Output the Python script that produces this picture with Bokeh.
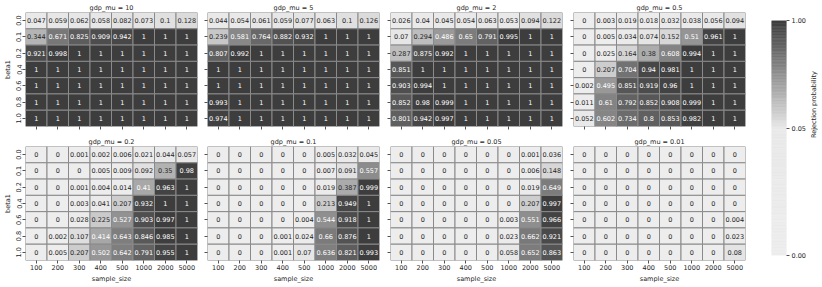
import math
from bokeh.plotting import figure
from bokeh.layouts import row, column
from bokeh.models import FactorRange, Range1d, ColumnDataSource, FixedTicker, LinearColorMapper
from bokeh.transform import transform
from bokeh.core.properties import value
from bokeh.embed import file_html
from bokeh.resources import INLINE

# ---------------- data ----------------
sample_sizes = ["100", "200", "300", "400", "500", "1000", "2000", "5000"]
beta1_levels = ["0.0", "0.1", "0.2", "0.4", "0.6", "0.8", "1.0"]
gdp_mu_labels = ["10", "5", "2", "0.5", "0.2", "0.1", "0.05", "0.01"]

rej_mu_10 = [
    [0.047, 0.059, 0.062, 0.058, 0.082, 0.073, 0.1, 0.128],
    [0.344, 0.671, 0.825, 0.909, 0.942, 1, 1, 1],
    [0.921, 0.998, 1, 1, 1, 1, 1, 1],
    [1, 1, 1, 1, 1, 1, 1, 1],
    [1, 1, 1, 1, 1, 1, 1, 1],
    [1, 1, 1, 1, 1, 1, 1, 1],
    [1, 1, 1, 1, 1, 1, 1, 1],
]
rej_mu_5 = [
    [0.044, 0.054, 0.061, 0.059, 0.077, 0.063, 0.1, 0.126],
    [0.239, 0.581, 0.764, 0.882, 0.932, 1, 1, 1],
    [0.807, 0.992, 1, 1, 1, 1, 1, 1],
    [1, 1, 1, 1, 1, 1, 1, 1],
    [1, 1, 1, 1, 1, 1, 1, 1],
    [0.993, 1, 1, 1, 1, 1, 1, 1],
    [0.974, 1, 1, 1, 1, 1, 1, 1],
]
rej_mu_2 = [
    [0.026, 0.04, 0.045, 0.054, 0.063, 0.053, 0.094, 0.122],
    [0.07, 0.294, 0.486, 0.65, 0.791, 0.995, 1, 1],
    [0.287, 0.875, 0.992, 1, 1, 1, 1, 1],
    [0.851, 1, 1, 1, 1, 1, 1, 1],
    [0.903, 0.994, 1, 1, 1, 1, 1, 1],
    [0.852, 0.98, 0.999, 1, 1, 1, 1, 1],
    [0.801, 0.942, 0.997, 1, 1, 1, 1, 1],
]
rej_mu_05 = [
    [0, 0.003, 0.019, 0.018, 0.032, 0.038, 0.056, 0.094],
    [0, 0.005, 0.034, 0.074, 0.152, 0.51, 0.961, 1],
    [0, 0.025, 0.164, 0.38, 0.608, 0.994, 1, 1],
    [0, 0.207, 0.704, 0.94, 0.981, 1, 1, 1],
    [0.002, 0.495, 0.851, 0.919, 0.96, 1, 1, 1],
    [0.011, 0.61, 0.792, 0.852, 0.908, 0.999, 1, 1],
    [0.052, 0.602, 0.734, 0.8, 0.853, 0.982, 1, 1],
]
rej_mu_02 = [
    [0, 0, 0.001, 0.002, 0.006, 0.021, 0.044, 0.057],
    [0, 0, 0, 0.005, 0.009, 0.092, 0.35, 0.98],
    [0, 0, 0.001, 0.004, 0.014, 0.41, 0.963, 1],
    [0, 0, 0.003, 0.041, 0.207, 0.932, 1, 1],
    [0, 0, 0.028, 0.225, 0.527, 0.903, 0.997, 1],
    [0, 0.002, 0.107, 0.414, 0.643, 0.846, 0.985, 1],
    [0, 0.005, 0.207, 0.502, 0.642, 0.791, 0.955, 1],
]
rej_mu_01 = [
    [0, 0, 0, 0, 0, 0.005, 0.032, 0.045],
    [0, 0, 0, 0, 0, 0.007, 0.091, 0.557],
    [0, 0, 0, 0, 0, 0.019, 0.387, 0.999],
    [0, 0, 0, 0, 0, 0.213, 0.949, 1],
    [0, 0, 0, 0, 0.004, 0.544, 0.918, 1],
    [0, 0, 0, 0.001, 0.024, 0.66, 0.876, 1],
    [0, 0, 0, 0.001, 0.07, 0.636, 0.821, 0.993],
]
rej_mu_005 = [
    [0, 0, 0, 0, 0, 0, 0.001, 0.036],
    [0, 0, 0, 0, 0, 0, 0.006, 0.148],
    [0, 0, 0, 0, 0, 0, 0.019, 0.649],
    [0, 0, 0, 0, 0, 0, 0.207, 0.997],
    [0, 0, 0, 0, 0, 0.003, 0.551, 0.966],
    [0, 0, 0, 0, 0, 0.023, 0.662, 0.921],
    [0, 0, 0, 0, 0, 0.058, 0.652, 0.863],
]
rej_mu_001 = [
    [0, 0, 0, 0, 0, 0, 0, 0],
    [0, 0, 0, 0, 0, 0, 0, 0],
    [0, 0, 0, 0, 0, 0, 0, 0],
    [0, 0, 0, 0, 0, 0, 0, 0],
    [0, 0, 0, 0, 0, 0, 0, 0.004],
    [0, 0, 0, 0, 0, 0, 0, 0.023],
    [0, 0, 0, 0, 0, 0, 0, 0.08],
]
panels = [rej_mu_10, rej_mu_5, rej_mu_2, rej_mu_05,
          rej_mu_02, rej_mu_01, rej_mu_005, rej_mu_001]

cbar_ticks = [0.0, 0.05, 1.0]
cbar_tick_labels = ["0.00", "0.05", "1.00"]

# ---------------- styling ----------------
FONT = "DejaVu Sans"
FS = "6.5px"
TXT = "#262626"
CENTER = 0.05
CB_MID = 0.54


def to_pos(v):
    if v <= CENTER:
        return CB_MID * v / CENTER
    return CB_MID + (1 - CB_MID) * (v - CENTER) / (1 - CENTER)


def gray_at(p):
    if p <= CB_MID:
        return 237 + (233 - 237) * p / CB_MID
    return 233 + (61 - 233) * (p - CB_MID) / (1 - CB_MID)


def hexgray(g):
    g = int(round(g))
    return "#%02x%02x%02x" % (g, g, g)


palette = [hexgray(gray_at(i / 255)) for i in range(256)]
mapper = LinearColorMapper(palette=palette, low=0, high=1)


def text_color_for(v):
    g = gray_at(to_pos(v)) / 255.0
    lin = g / 12.92 if g <= 0.04045 else ((g + 0.055) / 1.055) ** 2.4
    return TXT if lin > 0.408 else "white"


def fmt(v):
    return "{:.3g}".format(v)


def hide_labels(ax):
    ax.major_label_text_color = None
    ax.major_label_text_font_size = "1px"
    ax.major_label_standoff = 0


LEFTS = [18, 8, 9, 9]
TOPS = [10, 14]
BOTS = [6, 22]
FH = 114

figs = []
for idx, data in enumerate(panels):
    r, c = divmod(idx, 4)
    xs, ys, pos, labels, tcols = [], [], [], [], []
    for i, b in enumerate(beta1_levels):
        for j, s in enumerate(sample_sizes):
            v = data[i][j]
            xs.append(s)
            ys.append(b)
            pos.append(to_pos(v))
            labels.append(fmt(v))
            tcols.append(text_color_for(v))
    src = ColumnDataSource(dict(x=xs, y=ys, pos=pos, label=labels, tcol=tcols))

    p = figure(x_range=FactorRange(factors=sample_sizes),
               y_range=FactorRange(factors=list(reversed(beta1_levels))),
               frame_width=172, frame_height=FH,
               min_border_left=LEFTS[c], min_border_right=2,
               min_border_top=TOPS[r], min_border_bottom=BOTS[r],
               output_backend="svg", toolbar_location=None)
    p.rect(x="x", y="y", width=1, height=1, source=src,
           fill_color=transform("pos", mapper), line_color="#8a8a8a", line_width=1)
    p.text(x="x", y="y", text="label", source=src, text_color="tcol",
           text_align="center", text_baseline="middle",
           text_font=value(FONT), text_font_size=FS)

    p.grid.visible = False
    p.outline_line_color = None
    p.background_fill_color = "white"
    p.border_fill_color = "white"

    p.title.text = "gdp_mu = " + gdp_mu_labels[idx]
    p.title.align = "center"
    p.title.text_font = FONT
    p.title.text_font_size = FS
    p.title.text_font_style = "normal"
    p.title.text_color = TXT
    p.title.standoff = 2
    p.title.offset = 0

    for ax in (p.xaxis[0], p.yaxis[0]):
        ax.axis_line_color = None
        ax.major_tick_in = 0
        ax.major_tick_out = 3
        ax.major_tick_line_color = TXT
        ax.major_tick_line_width = 0.8
        ax.major_label_text_font = FONT
        ax.major_label_text_font_size = FS
        ax.major_label_text_color = TXT
        ax.major_label_standoff = 1
        ax.axis_label_text_font = FONT
        ax.axis_label_text_font_size = FS
        ax.axis_label_text_font_style = "normal"
        ax.axis_label_text_color = TXT
        ax.axis_label_standoff = 2
    p.yaxis.major_label_orientation = "vertical"

    if r == 0:
        hide_labels(p.xaxis[0])
    else:
        p.xaxis.axis_label = "sample_size"
    if c == 0:
        p.yaxis.axis_label = "beta1"
    else:
        hide_labels(p.yaxis[0])
    figs.append(p)

# ---------------- colour bar ----------------
n = 160
edges = [k / n for k in range(n + 1)]
cb_src = ColumnDataSource(dict(bottom=edges[:-1], top=edges[1:],
                               mid=[(edges[k] + edges[k + 1]) / 2 for k in range(n)]))
cb = figure(x_range=Range1d(0, 1), y_range=Range1d(0, 1),
            frame_width=15, frame_height=235, y_axis_location="right",
            min_border_left=24, min_border_top=20, min_border_bottom=6, min_border_right=4,
            output_backend="svg", toolbar_location=None)
cb.quad(left=0, right=1, bottom="bottom", top="top", source=cb_src,
        fill_color=transform("mid", mapper), line_color=transform("mid", mapper), line_width=0.6)
cb.xaxis.visible = False
cb.grid.visible = False
cb.outline_line_color = None
ya = cb.yaxis[0]
tick_pos = [to_pos(t) for t in cbar_ticks]
ya.ticker = FixedTicker(ticks=tick_pos)
ya.major_label_overrides = {tp: lab for tp, lab in zip(tick_pos, cbar_tick_labels)}
ya.axis_line_color = None
ya.major_tick_in = 0
ya.major_tick_out = 3
ya.major_tick_line_color = TXT
ya.major_tick_line_width = 0.8
ya.minor_tick_line_color = None
ya.major_label_text_font = FONT
ya.major_label_text_font_size = FS
ya.major_label_text_color = TXT
ya.major_label_standoff = 2
ya.axis_label = "Rejection probability"
ya.axis_label_text_font = FONT
ya.axis_label_text_font_size = FS
ya.axis_label_text_font_style = "normal"
ya.axis_label_text_color = TXT
ya.axis_label_standoff = 5
try:
    ya.axis_label_orientation = math.pi / 2
except Exception:
    pass

layout = row(column(row(*figs[:4]), row(*figs[4:])), cb)
open("out.html", "w").write(file_html(layout, INLINE))
